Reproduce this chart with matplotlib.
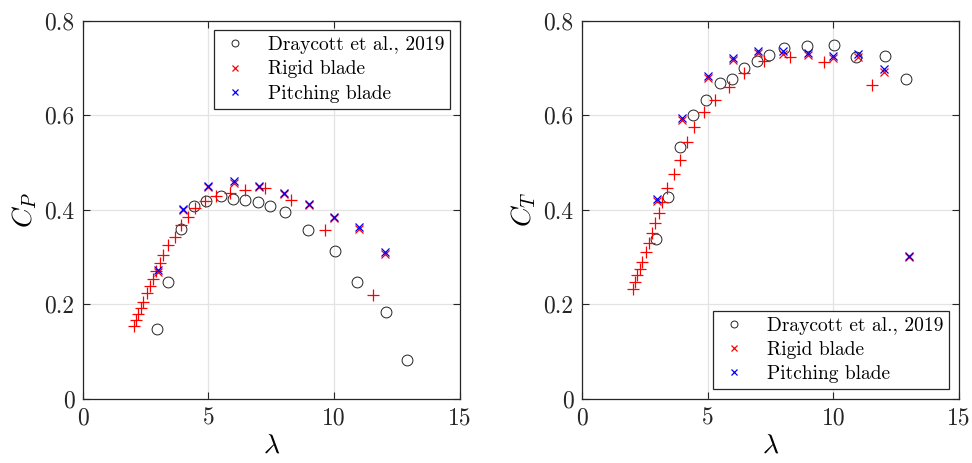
import matplotlib
matplotlib.use("Agg")
import matplotlib.pyplot as plt
from matplotlib.lines import Line2D

plt.rcParams['font.family'] = 'serif'
plt.rcParams['font.serif'] = ['cmr10']
plt.rcParams['mathtext.fontset'] = 'cm'
plt.rcParams['axes.unicode_minus'] = False
plt.rcParams['axes.formatter.use_mathtext'] = True

# ---- data ----
lam_draycott = [2.94, 3.41, 3.91, 4.44, 4.92, 5.50, 5.98, 6.45, 6.96, 7.46, 8.05, 8.97, 10.02, 10.92, 12.04, 12.91]
cp_draycott = [0.148, 0.246, 0.359, 0.408, 0.419, 0.430, 0.422, 0.420, 0.416, 0.408, 0.396, 0.358, 0.313, 0.247, 0.184, 0.081]
ct_draycott = [0.337, 0.427, 0.532, 0.601, 0.633, 0.668, 0.677, 0.699, 0.715, 0.727, 0.742, 0.746, 0.749, 0.723, 0.726, 0.676]

lam_sweep = [2.03, 2.10, 2.19, 2.30, 2.39, 2.54, 2.66, 2.78, 2.92, 3.06, 3.21, 3.40, 3.67, 3.89, 4.18, 4.48, 4.87, 5.31, 5.84, 6.46, 7.25, 8.28, 9.62, 11.52]
cp_sweep = [0.153, 0.167, 0.180, 0.192, 0.205, 0.223, 0.239, 0.254, 0.271, 0.288, 0.305, 0.325, 0.342, 0.368, 0.384, 0.403, 0.419, 0.430, 0.436, 0.441, 0.446, 0.420, 0.358, 0.219]
ct_sweep = [0.232, 0.247, 0.261, 0.275, 0.290, 0.310, 0.330, 0.350, 0.371, 0.393, 0.416, 0.446, 0.475, 0.505, 0.543, 0.575, 0.606, 0.633, 0.660, 0.690, 0.714, 0.723, 0.712, 0.663]

lam_blade_cp = [3, 4, 5, 6, 7, 8, 9, 10, 11, 12]
cp_rigid = [0.269, 0.399, 0.448, 0.456, 0.448, 0.433, 0.410, 0.382, 0.360, 0.307]
cp_pitch = [0.272, 0.402, 0.451, 0.460, 0.451, 0.436, 0.413, 0.385, 0.363, 0.310]

lam_blade_ct = [3, 4, 5, 6, 7, 8, 9, 10, 11, 12, 13]
ct_rigid = [0.418, 0.590, 0.678, 0.716, 0.731, 0.730, 0.727, 0.720, 0.724, 0.691, 0.300]
ct_pitch = [0.423, 0.595, 0.683, 0.721, 0.735, 0.735, 0.732, 0.726, 0.729, 0.697, 0.302]

xticks = [0, 5, 10, 15]
yticks = [0, 0.2, 0.4, 0.6, 0.8]
yticklabels = ['0', '0.2', '0.4', '0.6', '0.8']
legend_labels = ['Draycott et al., 2019', 'Rigid blade', 'Pitching blade']

fig = plt.figure(figsize=(9.72, 4.63), dpi=100)
ax1 = fig.add_axes([0.0851, 0.1389, 0.3882, 0.8164])
ax2 = fig.add_axes([0.5985, 0.1389, 0.3882, 0.8164])

def panel(ax, yd, ys, yr, yp, lamb, ylabel, legloc):
    ax.plot(lam_draycott, yd, linestyle='none', marker='o', ms=7.8, mfc='none',
            mec='#222222', mew=0.7, zorder=3)
    ax.plot(lam_sweep, ys, linestyle='none', marker='+', ms=8, mec='red', mew=0.9, zorder=3)
    ax.plot(lamb, yr, linestyle='none', marker='x', ms=6, mec='red', mew=0.9, zorder=4)
    ax.plot(lamb, yp, linestyle='none', marker='x', ms=6, mec='blue', mew=0.9, zorder=5)
    ax.set_xlim(0, 15)
    ax.set_ylim(0, 0.8)
    ax.set_xticks(xticks)
    ax.set_xticklabels([str(t) for t in xticks])
    ax.set_yticks(yticks)
    ax.set_yticklabels(yticklabels)
    ax.grid(True, color='#e3e3e3', linewidth=0.9)
    ax.set_axisbelow(True)
    ax.tick_params(direction='in', length=5, width=0.8, top=True, right=True,
                   labelsize=17, colors='#262626', pad=6)
    for s in ax.spines.values():
        s.set_linewidth(0.9)
        s.set_color('#262626')
    ax.set_xlabel(r'$\lambda$', fontsize=20, labelpad=2)
    ax.set_ylabel(ylabel, fontsize=20, labelpad=4)
    handles = [
        Line2D([], [], linestyle='none', marker='o', ms=5, mfc='none', mec='#222222', mew=0.7),
        Line2D([], [], linestyle='none', marker='x', ms=4.5, mec='red', mew=0.9),
        Line2D([], [], linestyle='none', marker='x', ms=4.5, mec='blue', mew=0.9),
    ]
    leg = ax.legend(handles, legend_labels, loc=legloc, fontsize=14, frameon=True,
                    fancybox=False, edgecolor='#262626', framealpha=1,
                    handlelength=1.6, handletextpad=0.9, borderpad=0.3,
                    labelspacing=0.32, borderaxespad=0.5)
    leg.get_frame().set_linewidth(0.9)

panel(ax1, cp_draycott, cp_sweep, cp_rigid, cp_pitch, lam_blade_cp, r'$C_P$', 'upper right')
panel(ax2, ct_draycott, ct_sweep, ct_rigid, ct_pitch, lam_blade_ct, r'$C_T$', 'lower right')

fig.savefig('out.png', dpi=100)
